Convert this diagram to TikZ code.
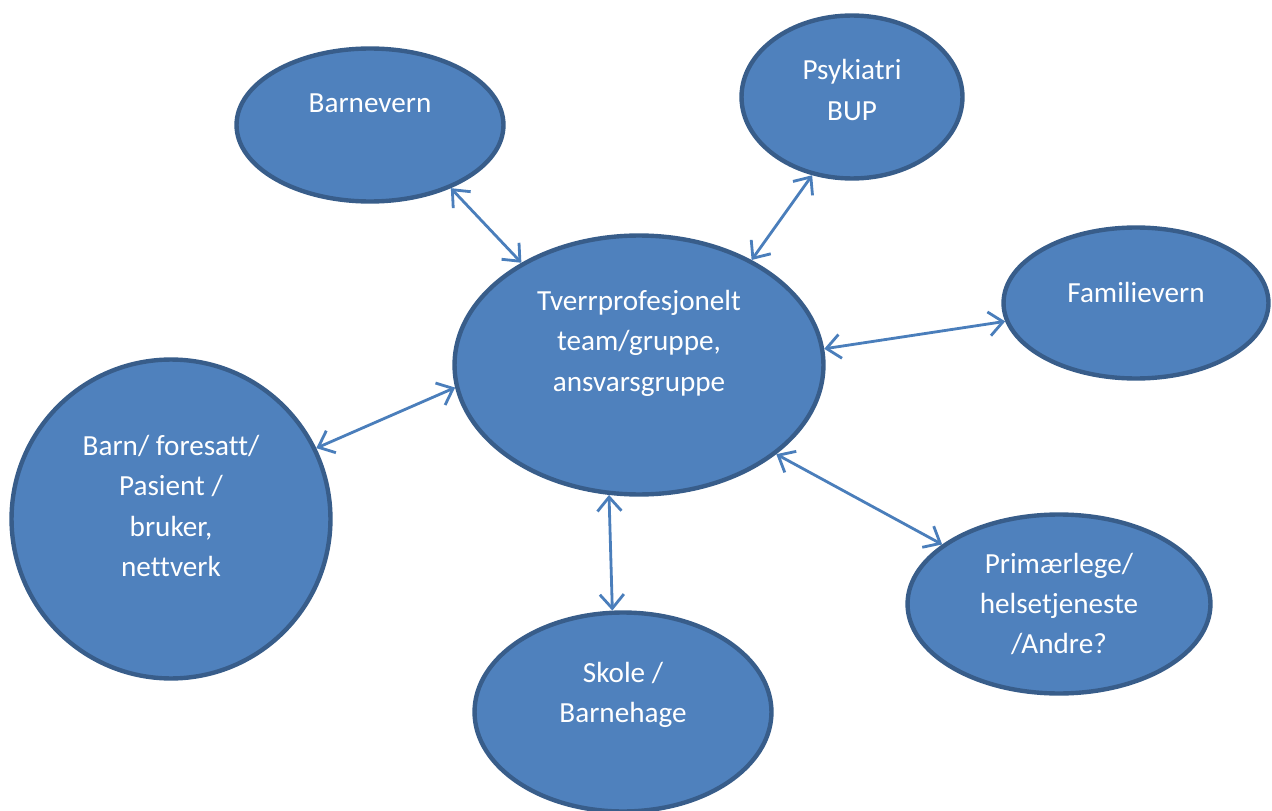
\documentclass[tikz,border=0pt]{standalone}
\usepackage{fontspec}
\setmainfont[Ligatures=NoCommon]{Carlito}
\usetikzlibrary{arrows.meta,shapes.geometric}
\definecolor{fyll}{HTML}{4F81BD}
\definecolor{kant}{HTML}{385D8A}
\definecolor{pil}{HTML}{4A7EBB}
\begin{document}
\begin{tikzpicture}[
    x=0.02cm, y=-0.02cm,
    boble/.style={ellipse, draw=kant, fill=fyll, line width=2.5pt, inner sep=0pt},
    tekst/.style={text=white, align=center, font=\fontsize{16.6}{23}\selectfont},
    forbindelse/.style={draw=pil, line width=1.6pt,
        {Straight Barb[length=2.8mm,width=4.8mm]}-{Straight Barb[length=2.8mm,width=4.8mm]}}
]
\useasboundingbox (0,0) rectangle (1272,811);

% Boblene
\node[boble, minimum width=7.38cm, minimum height=5.18cm] (team) at (639,365) {};
\node[boble, minimum width=5.34cm, minimum height=3.06cm] (barnevern) at (370,125) {};
\node[boble, minimum width=4.42cm, minimum height=3.26cm] (bup) at (852,97) {};
\node[boble, minimum width=5.30cm, minimum height=3.02cm] (familie) at (1136,303) {};
\node[boble, minimum width=6.38cm, minimum height=6.38cm] (barn) at (171,519) {};
\node[boble, minimum width=5.94cm, minimum height=3.98cm] (skole) at (623,712) {};
\node[boble, minimum width=6.06cm, minimum height=3.58cm] (primaer) at (1059,604) {};

% Tekstene
\node[tekst] (team-t) at ([yshift=0.44cm]team.center) {Tverrprofesjonelt\\team/gruppe,\\ansvarsgruppe};
\node[tekst] (barnevern-t) at ([yshift=0.44cm]barnevern.center) {Barnevern};
\node[tekst] (bup-t) at ([yshift=0.14cm]bup.center) {Psykiatri\\BUP};
\node[tekst] (familie-t) at ([yshift=0.22cm]familie.center) {Familievern};
\node[tekst] (barn-t) at ([yshift=0.26cm]barn.center) {Barn/ foresatt/\\Pasient /\\bruker,\\nettverk};
\node[tekst] (skole-t) at ([yshift=0.34cm]skole.center) {Skole /\\Barnehage};
\node[tekst] (primaer-t) at (primaer.center) {Prim\ae rlege/\\helsetjeneste\\/Andre?};

% Pilene
\draw[forbindelse] (barnevern.-38) -- (team.139);
\draw[forbindelse] (bup.243) -- (team.43);
\draw[forbindelse] (familie.188) -- (team.5);
\draw[forbindelse] (barn.26) -- (team.187);
\draw[forbindelse] (skole.96) -- (team.-103);
\draw[forbindelse] (primaer.153) -- (team.-33);
\end{tikzpicture}
\end{document}
